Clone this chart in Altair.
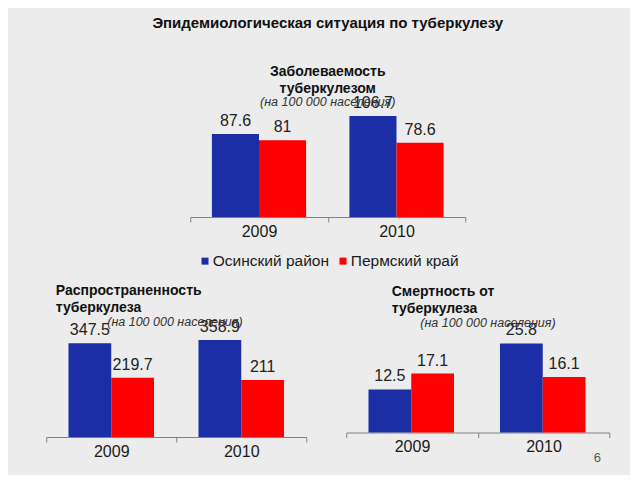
import altair as alt
import pandas as pd

years = ["2009", "2010"]
series = ["Осинский район", "Пермский край"]
colors = ["#1b2ea6", "#ff0000"]

inc_osa = [87.6, 106.7]
inc_perm = [81, 78.6]
prev_osa = [347.5, 358.9]
prev_perm = [219.7, 211]
mort_osa = [12.5, 25.8]
mort_perm = [17.1, 16.1]

main_title = "Эпидемиологическая ситуация по туберкулезу"
subtitle_txt = "(на 100 000 населения)"
page_no = "6"

FONT = "Liberation Sans"


def frame(a, b):
    rows = []
    for i, y in enumerate(years):
        rows.append({"year": y, "series": series[0], "value": a[i]})
        rows.append({"year": y, "series": series[1], "value": b[i]})
    return pd.DataFrame(rows)


def panel(a, b, width, height, dmax, po, title, legend=None, extras=()):
    df = frame(a, b)
    base = alt.Chart(df).encode(
        x=alt.X("year:N", sort=years,
                scale=alt.Scale(paddingInner=0, paddingOuter=0),
                axis=alt.Axis(title=None, labelAngle=0, tickBand="extent",
                              domainColor="#808080", tickColor="#808080",
                              tickSize=5, labelPadding=1, labelFontSize=16,
                              labelColor="#1a1a1a", labelFont=FONT, grid=False)),
        xOffset=alt.XOffset("series:N", sort=series,
                            scale=alt.Scale(paddingInner=0, paddingOuter=po)),
        y=alt.Y("value:Q", scale=alt.Scale(domain=[0, dmax]), axis=None),
    )
    bars = base.mark_bar().encode(
        color=alt.Color("series:N", sort=series,
                        scale=alt.Scale(domain=series, range=colors),
                        legend=legend)
    )
    labels = base.mark_text(dy=-8, fontSize=16, font=FONT, color="#222222",
                            baseline="alphabetic").encode(text=alt.Text("value:Q"))
    layers = [bars, labels] + list(extras)
    return alt.layer(*layers).properties(width=width, height=height, title=title)


def ttl(lines, anchor, dx, offset, sub=None):
    kw = {}
    if sub is not None:
        kw = dict(subtitle=sub, subtitleFont=FONT, subtitleFontSize=12.5,
                  subtitleFontStyle="italic", subtitleColor="#333333",
                  subtitlePadding=0)
    return alt.TitleParams(
        text=lines, anchor=anchor, dx=dx, offset=offset, font=FONT, fontSize=14,
        fontWeight="bold", color="#111111", lineHeight=17, **kw)


def sub_mark(xpos, ypos):
    return alt.Chart(pd.DataFrame({"s": [subtitle_txt]})).mark_text(
        fontSize=12.5, font=FONT, fontStyle="italic", color="#333333",
        align="left", baseline="middle").encode(
        text="s:N", x=alt.value(xpos), y=alt.value(ypos))


legend = alt.Legend(title=None, orient="none", legendX=7, legendY=159,
                    direction="horizontal", symbolType="square", symbolSize=49,
                    symbolStrokeWidth=0, labelFontSize=15.5, labelFont=FONT,
                    labelColor="#1a1a1a", labelOffset=0, columnPadding=6,
                    padding=0)

top = panel(inc_osa, inc_perm, 275, 123, 130, 0.46,
            ttl(["Заболеваемость", "туберкулезом"], "middle", 0, -14, subtitle_txt),
            legend=legend)

left = panel(prev_osa, prev_perm, 260, 108, 400, 0.52,
             ttl(["Распространенность", "туберкулеза"], "start", 10, 1),
             extras=[sub_mark(61, -7)])

page = alt.Chart(pd.DataFrame({"p": [page_no]})).mark_text(
    fontSize=13, font=FONT, color="#555555").encode(
    text="p:N", x=alt.value(251), y=alt.value(129))

right = panel(mort_osa, mort_perm, 263, 103.5, 30, 0.53,
              ttl(["Смертность от", "туберкулеза"], "start", 46, 1),
              extras=[sub_mark(74, -6), page])

chart = alt.vconcat(
    top,
    alt.hconcat(left, right, spacing=38),
    spacing=14, center=True,
).resolve_scale(color="independent", xOffset="independent").resolve_legend(
    color="independent").properties(
    title=alt.TitleParams(main_title, fontSize=15, font=FONT, fontWeight="bold",
                          color="#111111", anchor="middle", offset=34),
    padding={"left": 37, "top": 7, "right": 20, "bottom": 10},
).configure(background="#ececec").configure_view(stroke=None)

chart.save("out.html", embed_options={"renderer": "svg", "actions": False})
